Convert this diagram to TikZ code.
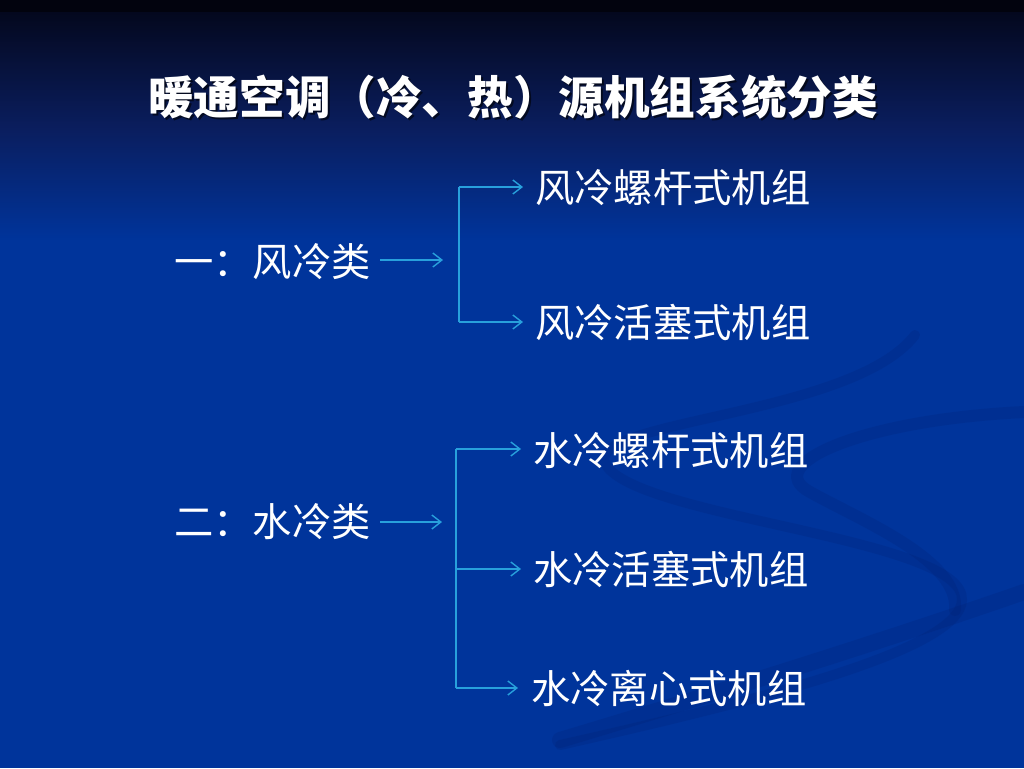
\documentclass[tikz,border=0pt]{standalone}
\usepackage{fontspec}
\newfontfamily\cjk{Noto Sans CJK SC}
\usetikzlibrary{arrows.meta}
\definecolor{bgtop}{RGB}{2,3,14}
\definecolor{bgA}{RGB}{4,8,30}
\definecolor{bgB}{RGB}{10,30,95}
\definecolor{bgmain}{RGB}{0,52,155}
\definecolor{arrowblue}{RGB}{40,160,220}
\definecolor{swirl}{RGB}{0,30,110}
\begin{document}
\begin{tikzpicture}[x=1pt,y=-1pt,
  lbl/.style={text=white,inner sep=0pt,font=\cjk\fontsize{39.3}{39.3}\selectfont,anchor=west},
  ttl/.style={inner sep=0pt,font=\cjk\fontsize{45.6}{45.6}\selectfont\bfseries},
  arr/.style={draw=arrowblue,line width=1.4pt,-{Straight Barb[length=9pt,width=14pt,line width=1.4pt]}},
  brk/.style={draw=arrowblue,line width=1.4pt},
  sw/.style={draw=swirl,opacity=0.2,line cap=round}]
\useasboundingbox (0,0) rectangle (1024,768);
% background
\fill[bgmain] (0,0) rectangle (1024,768);
\shade[top color=bgA,bottom color=bgB] (0,12) rectangle (1024,130);
\shade[top color=bgB,bottom color=bgmain] (0,130) rectangle (1024,240);
\fill[bgtop] (0,0) rectangle (1024,12);
% faint swirl
\draw[sw,line width=10pt] (915,335) .. controls (850,420) and (560,420) .. (610,470)
  .. controls (660,520) and (965,540) .. (962,600) .. controls (960,650) and (760,700) .. (560,745);
\draw[sw,line width=12pt] (1024,412) .. controls (860,420) and (760,465) .. (810,492)
  .. controls (860,520) and (960,560) .. (955,610);
\draw[sw,line width=16pt] (1024,592) .. controls (900,635) and (760,680) .. (560,740);
% title
\node[ttl,text=black,opacity=0.6] (tshadow) at (515,99) {暖通空调（冷、热）源机组系统分类};
\node[ttl,text=white] (title) at (513,97) {暖通空调（冷、热）源机组系统分类};
% left labels
\node[lbl] (L1) at (174,262) {一：风冷类};
\node[lbl] (L2) at (174,522) {二：水冷类};
% right labels
\node[lbl] (A1) at (535,188) {风冷螺杆式机组};
\node[lbl] (A2) at (535,322) {风冷活塞式机组};
\node[lbl] (B1) at (533,451) {水冷螺杆式机组};
\node[lbl] (B2) at (533,569) {水冷活塞式机组};
\node[lbl] (B3) at (531,688) {水冷离心式机组};
% junction coordinates
\coordinate (j1) at (443,260);
\coordinate (j2) at (442,522);
\coordinate (a1) at (459,187);
\coordinate (a2) at (459,322);
\coordinate (b1) at (456,449);
\coordinate (b2) at (456,569);
\coordinate (b3) at (456,688);
% connectors
\draw[arr,shorten <=9pt] (L1.east |- j1) -- (j1);
\draw[arr,shorten <=9pt] (L2.east |- j2) -- (j2);
\draw[brk] (a1) -- (a2);
\draw[brk] (b1) -- (b3);
\draw[arr,shorten >=12pt] (a1) -- (a1 -| A1.west);
\draw[arr,shorten >=12pt] (a2) -- (a2 -| A2.west);
\draw[arr,shorten >=12pt] (b1) -- (b1 -| B1.west);
\draw[arr,shorten >=12pt] (b2) -- (b2 -| B2.west);
\draw[arr,shorten >=13pt] (b3) -- (b3 -| B3.west);
\end{tikzpicture}
\end{document}
